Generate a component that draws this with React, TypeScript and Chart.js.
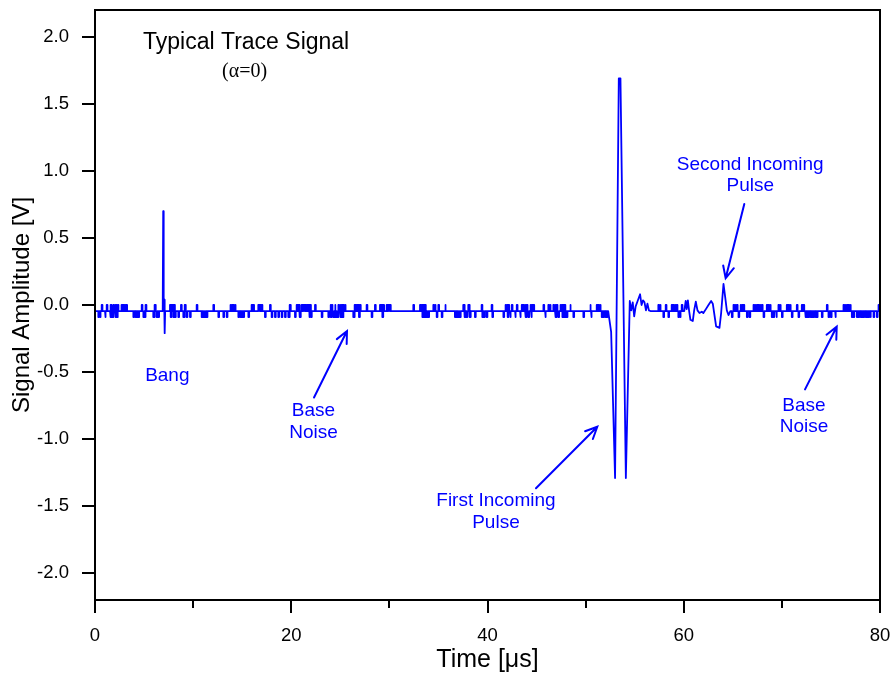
import React, { useEffect, useRef } from 'react';
import { Chart, registerables } from 'chart.js';

Chart.register(...registerables);

// ---------- axis ticks ----------
const xTickValues = [0, 20, 40, 60, 80];
const xMinorTickValues = [10, 30, 50, 70];
const yTickValues = [-2, -1.5, -1, -0.5, 0, 0.5, 1, 1.5, 2];

// ---------- trace levels (V) ----------
const BASE_LEVEL = -0.045;
const UP_LEVEL = 0.0;
const DOWN_LEVEL = -0.09;

// times (µs) of short noise excursions up to UP_LEVEL
const noiseUpTimes = [
  0.68, 1.19, 1.6, 1.87, 2.11, 2.31, 2.65, 2.79, 2.92, 3.06, 3.19, 4.76, 5.16, 6.11, 7.64, 7.78, 7.91, 8.05,
  8.76, 9.17, 10.36, 12.06, 13.76, 13.93, 14.1, 14.27, 15.96, 16.13, 16.64, 16.81, 16.98, 17.83, 19.87,
  20.55, 20.72, 21.06, 21.23, 21.4, 21.57, 21.74, 21.91, 22.42, 23.95, 24.12, 24.46, 24.8, 24.97, 25.14,
  25.31, 25.48, 26.49, 26.66, 26.83, 27.0, 27.68, 28.53, 29.04, 29.21, 29.38, 29.72, 29.89, 30.06, 32.44,
  33.12, 33.29, 33.46, 33.63, 34.48, 34.65, 34.99, 35.67, 37.53, 38.04, 39.4, 40.42,
  41.79, 41.96, 42.13, 42.47, 42.98, 43.49, 43.66, 43.83, 44.0, 44.34, 44.51, 44.68, 45.7, 46.2, 46.37,
  46.71, 46.88, 47.05, 47.39, 47.56, 47.73, 47.9, 48.41, 50.45, 51.13, 51.3, 51.47,
  57.41, 57.58, 58.16, 58.77, 58.94, 59.11, 59.28, 59.79,
  65.07, 65.24, 65.41, 65.75, 65.92, 66.09, 67.11, 67.28, 67.45, 67.62, 67.79, 67.96, 68.46, 68.63, 68.8,
  69.65, 69.82, 70.5, 70.67, 70.84, 71.52, 72.03, 72.2, 74.58, 76.28, 76.45, 76.62, 76.79, 76.96, 79.85,
];

// times (µs) of short noise excursions down to DOWN_LEVEL
const noiseDownTimes = [
  0.34, 0.51, 1.02, 1.53, 1.7, 1.8, 2.04, 2.17, 2.24, 3.91, 4.08, 4.25, 4.42, 4.93, 5.05, 5.94, 6.03, 6.28,
  6.45, 7.71, 7.98, 8.15, 8.49, 9.0, 9.34, 9.68, 10.87, 11.04, 11.21, 11.38, 12.57, 13.08, 13.42, 14.61,
  14.78, 14.95, 15.12, 15.63, 17.32, 18.0, 18.34, 18.68, 19.02, 19.36, 19.7,
  20.38, 20.89, 21.81, 22.01, 23.1, 23.78, 24.05, 24.29, 24.39, 24.63, 24.73, 25.03, 25.24, 26.32, 26.9,
  28.19, 29.28, 33.36, 33.49, 33.7, 33.83, 33.97, 34.82, 35.33, 36.68, 36.85, 37.02, 37.19, 37.7, 37.87,
  38.21, 38.72, 39.47, 39.64, 39.91, 40.49,
  41.62, 42.06, 42.3, 42.81, 43.32, 43.9, 44.17, 44.44, 45.87, 46.95, 47.22, 47.63, 47.84, 48.07, 48.75,
  49.77, 50.55, 51.64, 51.81, 51.98, 52.15,
  57.92, 58.43, 59.45, 59.62,
  64.9, 65.58, 66.43, 66.7, 68.13, 68.97, 69.14, 69.42, 70.0, 71.01, 71.69, 72.37, 72.54, 72.71, 72.88,
  73.05, 73.22, 73.39, 73.56, 74.07, 74.75, 74.99, 75.43, 77.13, 77.3, 77.64, 77.81, 77.98, 78.15, 78.32,
  78.49, 78.66, 78.83, 79.0, 79.34, 79.68,
];

// "Bang" (transmitter firing)
const bangTimes = [6.9, 6.95, 7.0, 7.05, 7.1, 7.15, 7.22];
const bangValues = [-0.045, 0.7, -0.02, 0.04, -0.21, -0.045, -0.045];

// First incoming pulse and its ringing
const pulse1Times = [
  52.3, 52.6, 53.0, 53.38, 53.55, 54.1, 54.5, 54.65, 54.8, 54.95, 55.1, 55.3, 55.55, 55.7, 55.85, 56.0,
  56.15, 56.3, 56.45, 56.6,
];
const pulse1Values = [
  -0.045, -0.2, -1.29, 1.69, 1.69, -1.29, 0.03, -0.04, 0.02, -0.085, -0.01, 0.03, 0.08, 0.0, 0.035, 0.02,
  -0.04, 0.01, -0.04, -0.045,
];

// Second incoming pulse region
const pulse2Times = [
  60.05, 60.2, 60.3, 60.42, 60.55, 60.68, 60.92, 61.06, 61.23, 61.4, 61.6, 61.84, 62.0, 62.18, 62.52,
  62.79, 62.96, 63.2, 63.3, 63.64, 63.81, 64.05, 64.22, 64.39, 64.56, 64.75,
];
const pulse2Values = [
  -0.045, 0.03, -0.03, 0.035, -0.045, -0.11, -0.12, -0.04, 0.025, -0.04, -0.06, -0.05, -0.06, -0.04, 0.0,
  0.03, 0.01, -0.11, -0.16, -0.17, -0.06, 0.157, 0.06, -0.04, -0.075, -0.045,
];

// ---------- annotations (data coordinates) ----------
const SANS = '"Liberation Sans", Arial, Helvetica, sans-serif';
const SERIF = '"Liberation Serif", "Times New Roman", serif';
const BLUE = '#0000ff';

const textNotes = [
  { lines: ['Typical Trace Signal'], x: 15.4, y: 1.955, color: '#000000', font: `23px ${SANS}` },
  { lines: ['(\u03b1=0)'], x: 15.24, y: 1.74, color: '#000000', font: `20px ${SERIF}` },
  { lines: ['Bang'], x: 7.37, y: -0.53, color: BLUE, font: `19px ${SANS}` },
  { lines: ['Base', 'Noise'], x: 22.27, y: -0.79, color: BLUE, font: `19px ${SANS}` },
  { lines: ['First Incoming', 'Pulse'], x: 40.86, y: -1.462, color: BLUE, font: `19px ${SANS}` },
  { lines: ['Second Incoming', 'Pulse'], x: 66.78, y: 1.046, color: BLUE, font: `19px ${SANS}` },
  { lines: ['Base', 'Noise'], x: 72.25, y: -0.75, color: BLUE, font: `19px ${SANS}` },
];

const arrowNotes = [
  { from: [22.32, -0.69], to: [25.68, -0.194] },
  { from: [44.94, -1.367], to: [51.19, -0.908] },
  { from: [66.17, 0.753], to: [64.27, 0.199] },
  { from: [72.36, -0.629], to: [75.59, -0.162] },
];

function buildTrace() {
  const w = 0.08;
  const windows: number[][] = [
    [bangTimes[0], bangTimes[bangTimes.length - 1]],
    [pulse1Times[0], pulse1Times[pulse1Times.length - 1]],
    [pulse2Times[0], pulse2Times[pulse2Times.length - 1]],
  ];
  const inWindow = (t: number) => windows.some(([a, b]) => t >= a - w && t <= b);
  const segments: { x: number; y: number }[][] = [];
  const addSpike = (t: number, level: number) => {
    if (inWindow(t)) return;
    segments.push([
      { x: t, y: BASE_LEVEL },
      { x: t, y: level },
      { x: t + w, y: level },
      { x: t + w, y: BASE_LEVEL },
    ]);
  };
  noiseUpTimes.forEach((t) => addSpike(t, UP_LEVEL));
  noiseDownTimes.forEach((t) => addSpike(t, DOWN_LEVEL));
  segments.push(bangTimes.map((t, i) => ({ x: t, y: bangValues[i] })));
  segments.push(pulse1Times.map((t, i) => ({ x: t, y: pulse1Values[i] })));
  segments.push(pulse2Times.map((t, i) => ({ x: t, y: pulse2Values[i] })));
  segments.sort((a, b) => a[0].x - b[0].x);
  const pts: { x: number; y: number }[] = [{ x: 0, y: BASE_LEVEL }];
  segments.forEach((s) => pts.push(...s));
  pts.push({ x: 80, y: BASE_LEVEL });
  return pts;
}

const decorPlugin = {
  id: 'decor',
  afterDatasetsDraw(chart: any) {
    const { ctx, chartArea, scales } = chart;
    const xs = scales.x;
    const ys = scales.y;
    ctx.save();
    // frame
    ctx.strokeStyle = '#000';
    ctx.lineWidth = 2;
    ctx.strokeRect(chartArea.left, chartArea.top, chartArea.right - chartArea.left, chartArea.bottom - chartArea.top);
    // minor x ticks
    xMinorTickValues.forEach((v) => {
      const px = Math.round(xs.getPixelForValue(v));
      ctx.beginPath();
      ctx.moveTo(px, chartArea.bottom);
      ctx.lineTo(px, chartArea.bottom + 8);
      ctx.stroke();
    });
    // texts
    ctx.textAlign = 'center';
    ctx.textBaseline = 'middle';
    textNotes.forEach((n) => {
      ctx.font = n.font;
      ctx.fillStyle = n.color;
      const px = xs.getPixelForValue(n.x);
      const py = ys.getPixelForValue(n.y);
      n.lines.forEach((line, i) => ctx.fillText(line, px, py + i * 21.5));
    });
    // arrows
    ctx.strokeStyle = BLUE;
    ctx.lineWidth = 2;
    ctx.lineCap = 'round';
    arrowNotes.forEach((a) => {
      const x1 = xs.getPixelForValue(a.from[0]);
      const y1 = ys.getPixelForValue(a.from[1]);
      const x2 = xs.getPixelForValue(a.to[0]);
      const y2 = ys.getPixelForValue(a.to[1]);
      const ang = Math.atan2(y2 - y1, x2 - x1);
      const L = 13;
      const spread = (25 * Math.PI) / 180;
      ctx.beginPath();
      ctx.moveTo(x1, y1);
      ctx.lineTo(x2, y2);
      ctx.moveTo(x2 - L * Math.cos(ang - spread), y2 - L * Math.sin(ang - spread));
      ctx.lineTo(x2, y2);
      ctx.lineTo(x2 - L * Math.cos(ang + spread), y2 - L * Math.sin(ang + spread));
      ctx.stroke();
    });
    ctx.restore();
  },
};

export default function App() {
  const canvasRef = useRef<HTMLCanvasElement | null>(null);

  useEffect(() => {
    if (!canvasRef.current) return;
    const chart = new Chart(canvasRef.current, {
      type: 'line',
      data: {
        datasets: [
          {
            data: buildTrace(),
            borderColor: BLUE,
            borderWidth: 1.8,
            pointRadius: 0,
            tension: 0,
            fill: false,
            borderJoinStyle: 'round',
          } as any,
        ],
      },
      options: {
        animation: false,
        responsive: false,
        devicePixelRatio: 1,
        layout: { padding: { top: 10, right: 12, left: 0, bottom: 0 } },
        plugins: {
          legend: { display: false },
          tooltip: { enabled: false },
        },
        scales: {
          x: {
            type: 'linear',
            min: 0,
            max: 80,
            afterBuildTicks: (s: any) => {
              s.ticks = xTickValues.map((v) => ({ value: v }));
            },
            afterFit: (s: any) => {
              s.height = 75;
              s.paddingLeft = 0;
              s.paddingRight = 0;
            },
            ticks: {
              font: { family: SANS, size: 18.5 },
              color: '#000',
              padding: 12,
              maxRotation: 0,
              autoSkip: false,
              callback: (v: any) => String(v),
            },
            grid: { display: true, drawOnChartArea: false, drawTicks: true, tickLength: 13, lineWidth: 2, color: '#000' },
            border: { display: false },
            title: {
              display: true,
              text: 'Time [\u03bcs]',
              font: { family: SANS, size: 25 },
              color: '#000',
              padding: { top: 0, bottom: 0 },
            },
          },
          y: {
            type: 'linear',
            min: -2.2,
            max: 2.2,
            afterBuildTicks: (s: any) => {
              s.ticks = yTickValues.map((v) => ({ value: v }));
            },
            afterFit: (s: any) => {
              s.width = 95;
              s.paddingTop = 0;
              s.paddingBottom = 0;
            },
            ticks: {
              font: { family: SANS, size: 18.5 },
              color: '#000',
              padding: 13,
              autoSkip: false,
              callback: (v: any) => Number(v).toFixed(1),
            },
            grid: { display: true, drawOnChartArea: false, drawTicks: true, tickLength: 13, lineWidth: 2, color: '#000' },
            border: { display: false },
            title: {
              display: true,
              text: 'Signal Amplitude [V]',
              font: { family: SANS, size: 24 },
              color: '#000',
              padding: { top: 8, bottom: 0 },
            },
          },
        },
      } as any,
      plugins: [decorPlugin],
    });
    return () => chart.destroy();
  }, []);

  return (
    <div style={{ position: 'absolute', left: 0, top: 0, width: 892, height: 675, background: '#fff' }}>
      <canvas ref={canvasRef} width={892} height={675} style={{ display: 'block' }} />
    </div>
  );
}
